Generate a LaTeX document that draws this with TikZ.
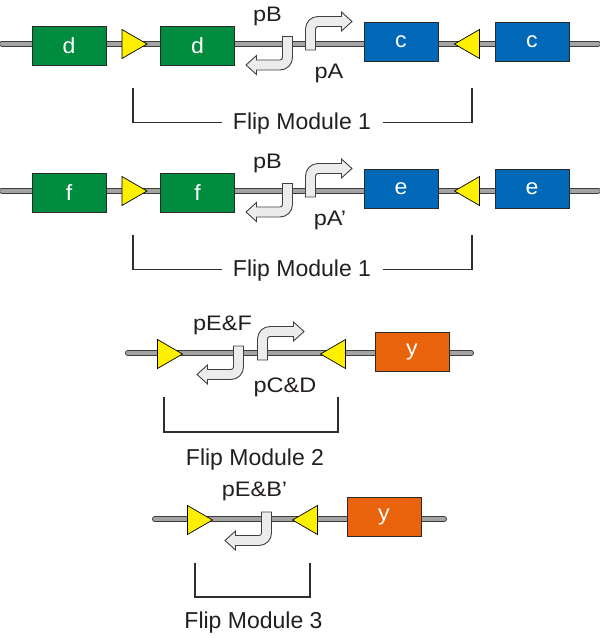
\documentclass[tikz,border=0pt]{standalone}
\usepackage{fontspec}
\setmainfont{Liberation Sans}
\definecolor{dnaedge}{HTML}{3C3C3C}
\definecolor{dnagray}{HTML}{A4A4A4}
\definecolor{boxedge}{HTML}{2A2A2A}
\definecolor{genegreen}{HTML}{008C3E}
\definecolor{geneblue}{HTML}{0068B7}
\definecolor{geneorange}{HTML}{E8630C}
\definecolor{frtyellow}{HTML}{FFF000}
\definecolor{promfill}{HTML}{ECECEC}
\definecolor{promedge}{HTML}{404040}
\definecolor{brk}{HTML}{2E2E2E}
\definecolor{txt}{HTML}{231F20}
\newcommand\stretchtxt[1]{\scalebox{1.12}[1]{#1}}
\newcommand\boxtxt[1]{\scalebox{1.05}[1]{#1}}
\tikzset{
  dnaout/.style={line width=6pt, draw=dnaedge, line cap=round},
  dnain/.style={line width=4pt, draw=dnagray, line cap=round},
  genebox/.style={draw=boxedge, line width=0.7pt, minimum width=74pt, minimum height=39pt, inner sep=0pt, text=white, font=\fontsize{22}{26}\selectfont},
  frt/.style={draw=black, line width=0.7pt, fill=frtyellow, line join=miter},
  bracket/.style={draw=brk, line width=1.2pt},
  lbl/.style={font=\fontsize{21}{24}\selectfont, text=txt, anchor=base, inner sep=0pt},
  modlbl/.style={font=\fontsize{23}{27}\selectfont, text=txt, anchor=base, inner sep=0pt},
  promstyle/.style={draw=promedge, line width=0.9pt, fill=promfill, line join=miter},
  prom/.pic={
    \begin{scope}[yscale=-1]
      \draw[promstyle] (-5,0) -- (-5,21) arc[start angle=180,end angle=90,radius=12.5]
        -- (31,33.5) -- (31,38) -- (41.5,28.5) -- (31,19) -- (31,23.5) -- (7.5,23.5)
        arc[start angle=90,end angle=180,radius=2.5] -- (5,0) -- cycle;
    \end{scope}
  },
  frtright/.pic={
    \draw[frt] (-12.5,-14.5) -- (12.5,0) -- (-12.5,14.5) -- cycle;
  },
  frtleft/.pic={
    \draw[frt] (12.5,-14.5) -- (-12.5,0) -- (12.5,14.5) -- cycle;
  }
}
\begin{document}
\begin{tikzpicture}[x=1pt,y=-1pt]
\useasboundingbox[fill=white] (0,0) rectangle (600,638);

% ---------------- Row 1 ----------------
\coordinate (r1a) at (2,43.5);
\coordinate (r1b) at (598,43.5);
\draw[dnaout] (r1a) -- (r1b);
\draw[dnain] (r1a) -- (r1b);
\node[genebox, fill=genegreen] (d1) at (69,45.5) {\boxtxt{d}};
\node[genebox, fill=genegreen] (d2) at (197.5,45.5) {\boxtxt{d}};
\node[genebox, fill=geneblue] (c1) at (401,41.5) {\boxtxt{c}};
\node[genebox, fill=geneblue] (c2) at (532,41.5) {\boxtxt{c}};
\pic at (134.5,44) {frtright};
\pic at (467,44) {frtleft};
\pic at (310.5,50) {prom};
\pic[rotate=180] at (287.5,36.5) {prom};
\node[lbl] (pB1) at (267.5,21) {\stretchtxt{pB}};
\node[lbl] (pA1) at (329,78) {\stretchtxt{pA}};
\node[modlbl] (fm1) at (302,129) {Flip Module 1};
\draw[bracket] (133,88) -- (133,122.5) -- (222,122.5);
\draw[bracket] (383,122.5) -- (472,122.5) -- (472,88);

% ---------------- Row 2 ----------------
\begin{scope}[yshift=-147pt]
\coordinate (r2a) at (2,43.5);
\coordinate (r2b) at (598,43.5);
\draw[dnaout] (r2a) -- (r2b);
\draw[dnain] (r2a) -- (r2b);
\node[genebox, fill=genegreen] (f1) at (69,45.5) {\boxtxt{f}};
\node[genebox, fill=genegreen] (f2) at (197.5,45.5) {\boxtxt{f}};
\node[genebox, fill=geneblue] (e1) at (401,41.5) {\boxtxt{e}};
\node[genebox, fill=geneblue] (e2) at (532,41.5) {\boxtxt{e}};
\pic at (134.5,44) {frtright};
\pic at (467,44) {frtleft};
\pic at (310.5,50) {prom};
\pic[rotate=180] at (287.5,36.5) {prom};
\node[lbl] (pB2) at (267.5,21) {\stretchtxt{pB}};
\node[lbl] (pA2) at (330,78) {\stretchtxt{pA’}};
\node[modlbl] (fm1b) at (302,129) {Flip Module 1};
\draw[bracket] (133,88) -- (133,122.5) -- (222,122.5);
\draw[bracket] (383,122.5) -- (472,122.5) -- (472,88);
\end{scope}

% ---------------- Row 3 ----------------
\coordinate (r3a) at (128,353);
\coordinate (r3b) at (471,353);
\draw[dnaout] (r3a) -- (r3b);
\draw[dnain] (r3a) -- (r3b);
\node[genebox, fill=geneorange] (y1) at (412,351.5) {\boxtxt{y}};
\pic at (170,354) {frtright};
\pic at (333,354) {frtleft};
\pic at (262.5,360) {prom};
\pic[rotate=180] at (238.5,346) {prom};
\node[lbl] (pEF) at (222.5,330) {\stretchtxt{pE\&F}};
\node[lbl] (pCD) at (285,392) {\stretchtxt{pC\&D}};
\draw[bracket] (164,397) -- (164,432) -- (338,432) -- (338,397);
\node[modlbl] (fm2) at (255,465) {Flip Module 2};

% ---------------- Row 4 ----------------
\coordinate (r4a) at (155,519);
\coordinate (r4b) at (444,519);
\draw[dnaout] (r4a) -- (r4b);
\draw[dnain] (r4a) -- (r4b);
\node[genebox, fill=geneorange] (y2) at (384,517) {\boxtxt{y}};
\pic at (200,520) {frtright};
\pic at (305,520) {frtleft};
\pic[rotate=180] at (266.5,512) {prom};
\node[lbl] (pEB) at (254.5,496) {\stretchtxt{pE\&B’}};
\draw[bracket] (195,563) -- (195,597) -- (310,597) -- (310,563);
\node[modlbl] (fm3) at (253.5,628) {Flip Module 3};
\end{tikzpicture}
\end{document}
